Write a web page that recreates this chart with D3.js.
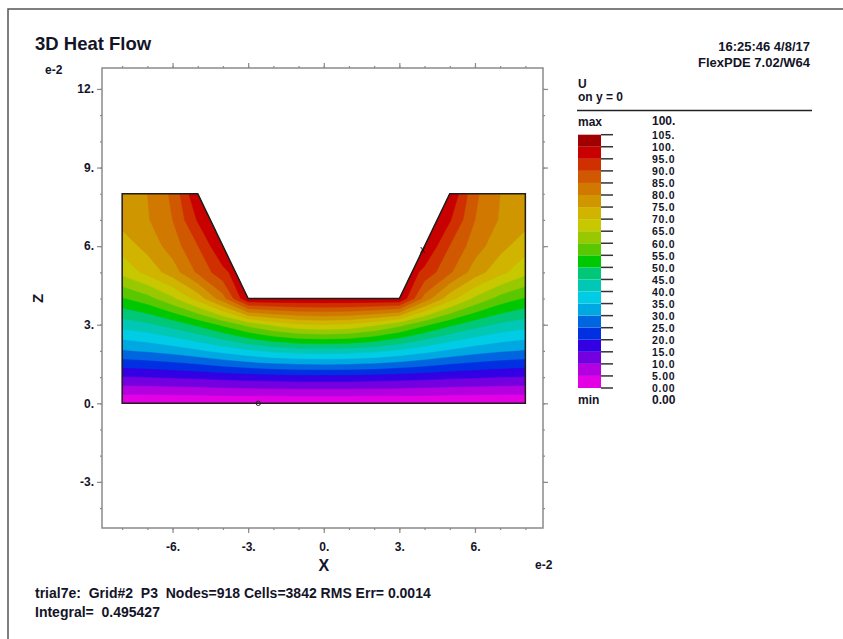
<!DOCTYPE html>
<html>
<head>
<meta charset="utf-8">
<script src="https://cdn.jsdelivr.net/npm/d3@7"></script>
<style>
  body { margin: 0; background: #fff; }
  svg text { font-family: "Liberation Sans", Arial, sans-serif; font-weight: bold; fill: #141428; white-space: pre; }
</style>
</head>
<body>
<script>
// grid of the solution U on y = 0 (rows from z = 0 up to z = 8)
const gridX = [-8, -7, -6, -5, -4, -3, -2, -1, 0, 1, 2, 3, 4, 5, 6, 7, 8];
const gridZ = [0, 1, 2, 3, 4, 5, 6, 7, 8];
const fieldU = [
  [0, 0, 0, 0, 0, 0, 0, 0, 0, 0, 0, 0, 0, 0, 0, 0, 0],
  [14.7, 15, 15.5, 16, 16.7, 17.3, 17.7, 18, 18, 18, 17.7, 17.3, 16.7, 16, 15.5, 15, 14.7],
  [29.5, 30.5, 32, 34, 36.5, 39, 41, 42.2, 42.5, 42.2, 41, 39, 36.5, 34, 32, 30.5, 29.5],
  [42, 44, 47, 51, 56, 61.5, 66, 69, 70, 69, 66, 61.5, 56, 51, 47, 44, 42],
  [54.5, 58, 64, 72, 83, 100, 100, 100, 100, 100, 100, 100, 83, 72, 64, 58, 54.5],
  [66.5, 71.5, 77.5, 85.8, 93.5, 100, 100, 100, 100, 100, 100, 100, 93.5, 85.8, 77.5, 71.5, 66.5],
  [72, 76.7, 82.3, 89.8, 100, 100, 100, 100, 100, 100, 100, 100, 100, 89.8, 82.3, 76.7, 72],
  [77, 79.5, 85, 95.5, 100, 100, 100, 100, 100, 100, 100, 100, 100, 95.5, 85, 79.5, 77],
  [78, 80, 86, 100, 100, 100, 100, 100, 100, 100, 100, 100, 100, 100, 86, 80, 78]
];

// domain outline (x, z)
const boundaryX = [-8, 8, 8, 5, 3, -3, -5, -8];
const boundaryZ = [0, 0, 8, 8, 4, 4, 8, 8];

// contour levels and palette, low to high
const bandLevels = [0, 5, 10, 15, 20, 25, 30, 35, 40, 45, 50, 55, 60, 65, 70, 75, 80, 85, 90, 95, 100];
const bandColors = ['#e400e4', '#b400e0', '#7400e0', '#3200e2', '#0030e2', '#0066e0', '#00a8e2', '#00cce6',
  '#00c8b4', '#00c878', '#00c800', '#5ac800', '#98c800', '#c8c800', '#d0b400', '#d09600',
  '#d07800', '#d05800', '#d03000', '#c80000', '#a00000'];
const legendLabels = ['105.', '100.', '95.0', '90.0', '85.0', '80.0', '75.0', '70.0', '65.0', '60.0', '55.0',
  '50.0', '45.0', '40.0', '35.0', '30.0', '25.0', '20.0', '15.0', '10.0', '5.00', '0.00'];
const legendValues = [105, 100, 95, 90, 85, 80, 75, 70, 65, 60, 55, 50, 45, 40, 35, 30, 25, 20, 15, 10, 5, 0];

const xTickValues = [-6, -3, 0, 3, 6];
const xTickLabels = ['-6.', '-3.', '0.', '3.', '6.'];
const yTickValues = [-3, 0, 3, 6, 9, 12];
const yTickLabels = ['-3.', '0.', '3.', '6.', '9.', '12.'];

// extreme markers
const maxMark = { x: 3.92, z: 5.85 };
const minMark = { x: -2.6, z: 0 };

const svg = d3.select('body').append('svg')
  .attr('width', 843)
  .attr('height', 639);

// window edge
svg.append('path')
  .attr('d', 'M8,639V9H843')
  .attr('fill', 'none')
  .attr('stroke', '#555')
  .attr('stroke-width', 1.5);

const plot = { left: 102, right: 543, top: 68, bottom: 528 };
const xScale = d3.scaleLinear().domain([-8.8, 8.7]).range([plot.left, plot.right]);
const yScale = d3.scaleLinear().domain([-4.76, 12.8]).range([plot.bottom, plot.top]);

// frame
svg.append('rect')
  .attr('x', plot.left)
  .attr('y', plot.top)
  .attr('width', plot.right - plot.left)
  .attr('height', plot.bottom - plot.top)
  .attr('fill', '#fff')
  .attr('stroke', '#8a8a8a')
  .attr('stroke-width', 1.5);

// ticks on all four sides
const minorX = d3.range(-8, 9), minorY = d3.range(-4, 13);
function tickAxis(axis, values, size) {
  return axis.tickValues(values).tickSize(size).tickFormat('');
}
const axes = [
  [d3.axisBottom(xScale), `translate(0,${plot.bottom})`, 'x'],
  [d3.axisTop(xScale), `translate(0,${plot.top})`, 'x'],
  [d3.axisLeft(yScale), `translate(${plot.left},0)`, 'y'],
  [d3.axisRight(yScale), `translate(${plot.right},0)`, 'y']
];
axes.forEach(function(a) {
  const minor = a[2] === 'x' ? minorX : minorY,
        major = a[2] === 'x' ? xTickValues : yTickValues;
  [[minor, 2], [major, 5]].forEach(function(t) {
    svg.append('g')
      .attr('transform', a[1])
      .call(tickAxis(a[0], t[0], t[1]))
      .call(g => g.select('.domain').remove())
      .call(g => g.selectAll('line').attr('stroke', '#8a8a8a').attr('stroke-width', 1.2))
      .call(g => g.selectAll('text').remove());
  });
});

// tick labels
svg.append('g')
  .attr('transform', `translate(0,${plot.bottom})`)
  .call(d3.axisBottom(xScale).tickValues(xTickValues).tickSize(0).tickPadding(14)
    .tickFormat((d, i) => xTickLabels[i]))
  .call(g => g.select('.domain').remove())
  .call(g => g.selectAll('text').attr('font-size', 12).attr('font-family', null).attr('fill', null));

svg.append('g')
  .attr('transform', `translate(${plot.left},0)`)
  .call(d3.axisLeft(yScale).tickValues(yTickValues).tickSize(0).tickPadding(8)
    .tickFormat((d, i) => yTickLabels[i]))
  .call(g => g.select('.domain').remove())
  .call(g => g.selectAll('text').attr('font-size', 12).attr('font-family', null).attr('fill', null));

// filled contours
const clipPoly = boundaryX.map((x, i) => [xScale(x), yScale(boundaryZ[i])]);
svg.append('clipPath')
  .attr('id', 'domain-clip')
  .append('path')
  .attr('d', 'M' + clipPoly.join('L') + 'Z');

const stepX = gridX[1] - gridX[0], stepZ = gridZ[1] - gridZ[0];
const gridToPx = d3.geoTransform({
  point: function(cx, cy) {
    this.stream.point(xScale(gridX[0] + (cx - 0.5) * stepX), yScale(gridZ[0] + (cy - 0.5) * stepZ));
  }
});
const contourPath = d3.geoPath(gridToPx);
const fillLevels = bandLevels.slice(0, -1);
const contours = d3.contours()
  .size([gridX.length, gridZ.length])
  .thresholds(fillLevels)(fieldU.flat());

svg.append('g')
  .attr('clip-path', 'url(#domain-clip)')
  .selectAll('path')
  .data(contours)
  .join('path')
  .attr('d', contourPath)
  .attr('fill', (d, i) => bandColors[i])
  .attr('stroke', (d, i) => bandColors[i])
  .attr('stroke-width', 0.4);

svg.append('path')
  .attr('d', 'M' + clipPoly.join('L') + 'Z')
  .attr('fill', 'none')
  .attr('stroke', '#1e1e1e')
  .attr('stroke-width', 1.5);

// max / min markers
svg.append('text')
  .attr('x', xScale(maxMark.x))
  .attr('y', yScale(maxMark.z))
  .attr('text-anchor', 'middle')
  .attr('dy', '0.3em')
  .attr('font-size', 10)
  .style('font-weight', 'normal')
  .text('x');
svg.append('circle')
  .attr('cx', xScale(minMark.x))
  .attr('cy', yScale(minMark.z))
  .attr('r', 2.2)
  .attr('fill', 'none')
  .attr('stroke', '#222')
  .attr('stroke-width', 1);

// titles and labels
function label(x, y, txt, size, anchor) {
  return svg.append('text')
    .attr('x', x)
    .attr('y', y)
    .attr('font-size', size)
    .attr('text-anchor', anchor || 'start')
    .attr('xml:space', 'preserve')
    .text(txt);
}
label(35, 50, '3D Heat Flow', 18.5);
label(810, 51, '16:25:46 4/8/17', 13, 'end');
label(810, 67, 'FlexPDE 7.02/W64', 13, 'end');
label(45, 74, 'e-2', 12);
label(535, 569, 'e-2', 12);
label(xScale(0), 571, 'X', 16, 'middle');
svg.append('text')
  .attr('transform', `translate(43,${yScale(4)}) rotate(-90)`)
  .attr('text-anchor', 'middle')
  .attr('font-size', 15)
  .text('Z');
label(35, 598, 'trial7e:  Grid#2  P3  Nodes=918 Cells=3842 RMS Err= 0.0014', 14);
label(35, 617, 'Integral=  0.495427', 14);

// legend
const lx = 578, lLabelX = 652;
label(lx, 88, 'U', 12);
label(lx, 101, 'on y = 0', 12);
svg.append('line')
  .attr('x1', 577).attr('x2', 812)
  .attr('y1', 110.5).attr('y2', 110.5)
  .attr('stroke', '#222')
  .attr('stroke-width', 1.5);
label(lx, 126, 'max', 12);
label(lLabelX, 125, '100.', 12);

const yLegend = d3.scaleLinear().domain([105, 0]).range([134.7, 388]);
svg.append('g')
  .selectAll('rect')
  .data(bandLevels)
  .join('rect')
  .attr('x', lx)
  .attr('width', 23)
  .attr('y', d => yLegend(d + 5))
  .attr('height', d => yLegend(d) - yLegend(d + 5))
  .attr('fill', (d, i) => bandColors[i]);

svg.append('g')
  .selectAll('line')
  .data(legendValues)
  .join('line')
  .attr('x1', lx + 23).attr('x2', 613)
  .attr('y1', d => yLegend(d)).attr('y2', d => yLegend(d))
  .attr('stroke', '#333')
  .attr('stroke-width', 1.5);

svg.append('g')
  .selectAll('text')
  .data(legendValues)
  .join('text')
  .attr('x', lLabelX)
  .attr('y', d => yLegend(d) + 0.5)
  .attr('dy', '0.36em')
  .attr('font-size', 10.5)
  .attr('letter-spacing', 0.7)
  .text((d, i) => legendLabels[i]);

label(lx, 404, 'min', 12);
label(lLabelX, 404, '0.00', 12);
</script>
</body>
</html>
